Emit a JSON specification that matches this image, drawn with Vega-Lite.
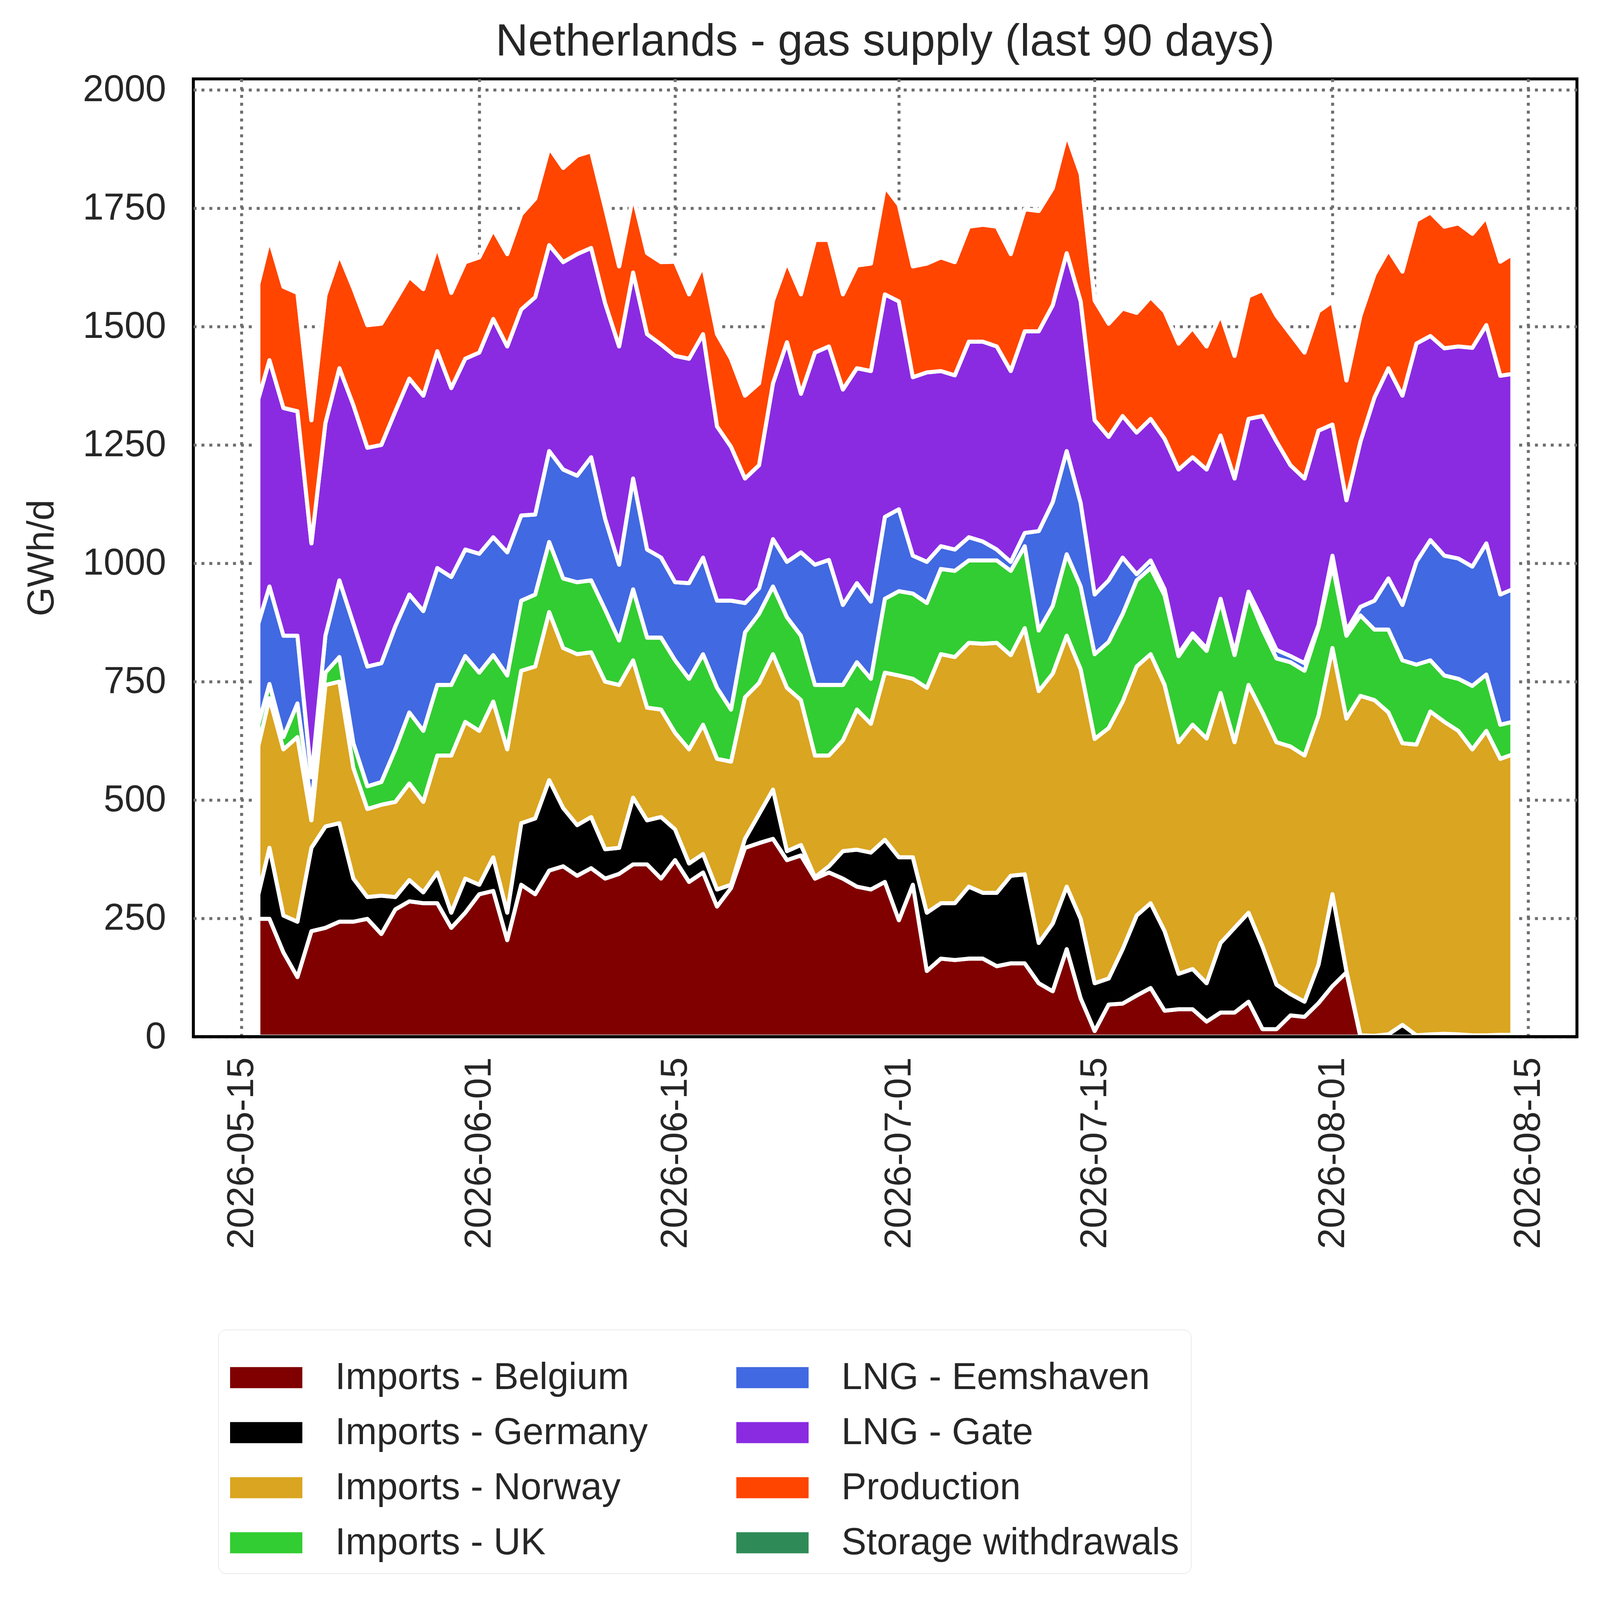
{
  "$schema": "https://vega.github.io/schema/vega-lite/v6.json",
  "autosize": {"type": "none"},
  "padding": {"left": 495, "top": 202, "right": 71, "bottom": 1403},
  "width": 3542,
  "height": 2452,
  "background": "white",
  "title": {
    "text": "Netherlands - gas supply (last 90 days)",
    "fontSize": 115,
    "font": "Liberation Sans",
    "fontWeight": "normal",
    "color": "#262626",
    "anchor": "middle",
    "frame": "group",
    "offset": 16
  },
  "data": {
    "values": [
      {"date": "2026-05-16T05:00:00Z", "Imports - Belgium": 249, "Imports - Germany": 52, "Imports - Norway": 314, "Imports - UK": 45, "LNG - Eemshaven": 213, "LNG - Gate": 474, "Production": 243, "Storage withdrawals": 0},
      {"date": "2026-05-17", "Imports - Belgium": 249, "Imports - Germany": 150, "Imports - Norway": 316, "Imports - UK": 30, "LNG - Eemshaven": 206, "LNG - Gate": 478, "Production": 256, "Storage withdrawals": 0},
      {"date": "2026-05-18", "Imports - Belgium": 178, "Imports - Germany": 78, "Imports - Norway": 351, "Imports - UK": 26, "LNG - Eemshaven": 214, "LNG - Gate": 481, "Production": 256, "Storage withdrawals": 0},
      {"date": "2026-05-19", "Imports - Belgium": 126, "Imports - Germany": 117, "Imports - Norway": 390, "Imports - UK": 71, "LNG - Eemshaven": 143, "LNG - Gate": 474, "Production": 250, "Storage withdrawals": 0},
      {"date": "2026-05-20", "Imports - Belgium": 223, "Imports - Germany": 176, "Imports - Norway": 58, "Imports - UK": 33, "LNG - Eemshaven": 58, "LNG - Gate": 494, "Production": 260, "Storage withdrawals": 0},
      {"date": "2026-05-21", "Imports - Belgium": 230, "Imports - Germany": 214, "Imports - Norway": 299, "Imports - UK": 26, "LNG - Eemshaven": 78, "LNG - Gate": 449, "Production": 270, "Storage withdrawals": 0},
      {"date": "2026-05-22", "Imports - Belgium": 243, "Imports - Germany": 208, "Imports - Norway": 299, "Imports - UK": 52, "LNG - Eemshaven": 162, "LNG - Gate": 448, "Production": 241, "Storage withdrawals": 0},
      {"date": "2026-05-23", "Imports - Belgium": 243, "Imports - Germany": 91, "Imports - Norway": 234, "Imports - UK": 52, "LNG - Eemshaven": 253, "LNG - Gate": 461, "Production": 247, "Storage withdrawals": 0},
      {"date": "2026-05-24", "Imports - Belgium": 249, "Imports - Germany": 46, "Imports - Norway": 186, "Imports - UK": 48, "LNG - Eemshaven": 253, "LNG - Gate": 462, "Production": 259, "Storage withdrawals": 0},
      {"date": "2026-05-25", "Imports - Belgium": 217, "Imports - Germany": 81, "Imports - Norway": 192, "Imports - UK": 48, "LNG - Eemshaven": 251, "LNG - Gate": 461, "Production": 256, "Storage withdrawals": 0},
      {"date": "2026-05-26", "Imports - Belgium": 269, "Imports - Germany": 26, "Imports - Norway": 201, "Imports - UK": 111, "LNG - Eemshaven": 260, "LNG - Gate": 454, "Production": 234, "Storage withdrawals": 0},
      {"date": "2026-05-27", "Imports - Belgium": 286, "Imports - Germany": 45, "Imports - Norway": 204, "Imports - UK": 150, "LNG - Eemshaven": 249, "LNG - Gate": 456, "Production": 215, "Storage withdrawals": 0},
      {"date": "2026-05-28", "Imports - Belgium": 282, "Imports - Germany": 23, "Imports - Norway": 191, "Imports - UK": 150, "LNG - Eemshaven": 253, "LNG - Gate": 455, "Production": 225, "Storage withdrawals": 0},
      {"date": "2026-05-29", "Imports - Belgium": 282, "Imports - Germany": 65, "Imports - Norway": 247, "Imports - UK": 149, "LNG - Eemshaven": 247, "LNG - Gate": 458, "Production": 222, "Storage withdrawals": 0},
      {"date": "2026-05-30", "Imports - Belgium": 230, "Imports - Germany": 32, "Imports - Norway": 332, "Imports - UK": 149, "LNG - Eemshaven": 228, "LNG - Gate": 399, "Production": 201, "Storage withdrawals": 0},
      {"date": "2026-05-31", "Imports - Belgium": 262, "Imports - Germany": 72, "Imports - Norway": 331, "Imports - UK": 139, "LNG - Eemshaven": 225, "LNG - Gate": 403, "Production": 204, "Storage withdrawals": 0},
      {"date": "2026-06-01", "Imports - Belgium": 301, "Imports - Germany": 20, "Imports - Norway": 325, "Imports - UK": 123, "LNG - Eemshaven": 251, "LNG - Gate": 425, "Production": 201, "Storage withdrawals": 0},
      {"date": "2026-06-02", "Imports - Belgium": 308, "Imports - Germany": 71, "Imports - Norway": 329, "Imports - UK": 98, "LNG - Eemshaven": 249, "LNG - Gate": 461, "Production": 189, "Storage withdrawals": 0},
      {"date": "2026-06-03", "Imports - Belgium": 204, "Imports - Germany": 58, "Imports - Norway": 345, "Imports - UK": 156, "LNG - Eemshaven": 260, "LNG - Gate": 435, "Production": 195, "Storage withdrawals": 0},
      {"date": "2026-06-04", "Imports - Belgium": 321, "Imports - Germany": 130, "Imports - Norway": 322, "Imports - UK": 148, "LNG - Eemshaven": 180, "LNG - Gate": 435, "Production": 201, "Storage withdrawals": 0},
      {"date": "2026-06-05", "Imports - Belgium": 301, "Imports - Germany": 160, "Imports - Norway": 321, "Imports - UK": 152, "LNG - Eemshaven": 169, "LNG - Gate": 459, "Production": 208, "Storage withdrawals": 0},
      {"date": "2026-06-06", "Imports - Belgium": 351, "Imports - Germany": 191, "Imports - Norway": 355, "Imports - UK": 148, "LNG - Eemshaven": 192, "LNG - Gate": 435, "Production": 206, "Storage withdrawals": 0},
      {"date": "2026-06-07", "Imports - Belgium": 360, "Imports - Germany": 123, "Imports - Norway": 338, "Imports - UK": 147, "LNG - Eemshaven": 230, "LNG - Gate": 438, "Production": 199, "Storage withdrawals": 0},
      {"date": "2026-06-08", "Imports - Belgium": 340, "Imports - Germany": 107, "Imports - Norway": 361, "Imports - UK": 152, "LNG - Eemshaven": 225, "LNG - Gate": 468, "Production": 208, "Storage withdrawals": 0},
      {"date": "2026-06-09", "Imports - Belgium": 356, "Imports - Germany": 108, "Imports - Norway": 348, "Imports - UK": 152, "LNG - Eemshaven": 260, "LNG - Gate": 442, "Production": 204, "Storage withdrawals": 0},
      {"date": "2026-06-10", "Imports - Belgium": 334, "Imports - Germany": 62, "Imports - Norway": 354, "Imports - UK": 152, "LNG - Eemshaven": 192, "LNG - Gate": 455, "Production": 201, "Storage withdrawals": 0},
      {"date": "2026-06-11", "Imports - Belgium": 344, "Imports - Germany": 55, "Imports - Norway": 344, "Imports - UK": 94, "LNG - Eemshaven": 160, "LNG - Gate": 461, "Production": 169, "Storage withdrawals": 0},
      {"date": "2026-06-12", "Imports - Belgium": 364, "Imports - Germany": 141, "Imports - Norway": 290, "Imports - UK": 150, "LNG - Eemshaven": 234, "LNG - Gate": 435, "Production": 162, "Storage withdrawals": 0},
      {"date": "2026-06-13", "Imports - Belgium": 364, "Imports - Germany": 93, "Imports - Norway": 238, "Imports - UK": 148, "LNG - Eemshaven": 186, "LNG - Gate": 455, "Production": 171, "Storage withdrawals": 0},
      {"date": "2026-06-14", "Imports - Belgium": 334, "Imports - Germany": 130, "Imports - Norway": 227, "Imports - UK": 152, "LNG - Eemshaven": 169, "LNG - Gate": 450, "Production": 174, "Storage withdrawals": 0},
      {"date": "2026-06-15", "Imports - Belgium": 373, "Imports - Germany": 65, "Imports - Norway": 204, "Imports - UK": 153, "LNG - Eemshaven": 165, "LNG - Gate": 478, "Production": 199, "Storage withdrawals": 0},
      {"date": "2026-06-16", "Imports - Belgium": 327, "Imports - Germany": 39, "Imports - Norway": 241, "Imports - UK": 149, "LNG - Eemshaven": 202, "LNG - Gate": 474, "Production": 136, "Storage withdrawals": 0},
      {"date": "2026-06-17", "Imports - Belgium": 347, "Imports - Germany": 39, "Imports - Norway": 273, "Imports - UK": 149, "LNG - Eemshaven": 204, "LNG - Gate": 472, "Production": 145, "Storage withdrawals": 0},
      {"date": "2026-06-18", "Imports - Belgium": 275, "Imports - Germany": 36, "Imports - Norway": 276, "Imports - UK": 150, "LNG - Eemshaven": 184, "LNG - Gate": 368, "Production": 195, "Storage withdrawals": 0},
      {"date": "2026-06-19", "Imports - Belgium": 314, "Imports - Germany": 7, "Imports - Norway": 260, "Imports - UK": 110, "LNG - Eemshaven": 230, "LNG - Gate": 325, "Production": 186, "Storage withdrawals": 0},
      {"date": "2026-06-20", "Imports - Belgium": 399, "Imports - Germany": 19, "Imports - Norway": 299, "Imports - UK": 137, "LNG - Eemshaven": 62, "LNG - Gate": 263, "Production": 175, "Storage withdrawals": 0},
      {"date": "2026-06-21", "Imports - Belgium": 409, "Imports - Germany": 61, "Imports - Norway": 277, "Imports - UK": 146, "LNG - Eemshaven": 54, "LNG - Gate": 260, "Production": 173, "Storage withdrawals": 0},
      {"date": "2026-06-22", "Imports - Belgium": 418, "Imports - Germany": 104, "Imports - Norway": 286, "Imports - UK": 143, "LNG - Eemshaven": 100, "LNG - Gate": 329, "Production": 175, "Storage withdrawals": 0},
      {"date": "2026-06-23", "Imports - Belgium": 373, "Imports - Germany": 19, "Imports - Norway": 345, "Imports - UK": 149, "LNG - Eemshaven": 117, "LNG - Gate": 464, "Production": 170, "Storage withdrawals": 0},
      {"date": "2026-06-24", "Imports - Belgium": 383, "Imports - Germany": 22, "Imports - Norway": 306, "Imports - UK": 136, "LNG - Eemshaven": 176, "LNG - Gate": 335, "Production": 210, "Storage withdrawals": 0},
      {"date": "2026-06-25", "Imports - Belgium": 334, "Imports - Germany": 3, "Imports - Norway": 257, "Imports - UK": 149, "LNG - Eemshaven": 254, "LNG - Gate": 448, "Production": 238, "Storage withdrawals": 0},
      {"date": "2026-06-26", "Imports - Belgium": 347, "Imports - Germany": 13, "Imports - Norway": 234, "Imports - UK": 149, "LNG - Eemshaven": 264, "LNG - Gate": 451, "Production": 225, "Storage withdrawals": 0},
      {"date": "2026-06-27", "Imports - Belgium": 334, "Imports - Germany": 58, "Imports - Norway": 234, "Imports - UK": 117, "LNG - Eemshaven": 169, "LNG - Gate": 455, "Production": 201, "Storage withdrawals": 0},
      {"date": "2026-06-28", "Imports - Belgium": 317, "Imports - Germany": 78, "Imports - Norway": 296, "Imports - UK": 100, "LNG - Eemshaven": 167, "LNG - Gate": 454, "Production": 217, "Storage withdrawals": 0},
      {"date": "2026-06-29", "Imports - Belgium": 311, "Imports - Germany": 78, "Imports - Norway": 272, "Imports - UK": 95, "LNG - Eemshaven": 163, "LNG - Gate": 487, "Production": 227, "Storage withdrawals": 0},
      {"date": "2026-06-30", "Imports - Belgium": 327, "Imports - Germany": 89, "Imports - Norway": 353, "Imports - UK": 156, "LNG - Eemshaven": 173, "LNG - Gate": 470, "Production": 228, "Storage withdrawals": 0},
      {"date": "2026-07-01", "Imports - Belgium": 246, "Imports - Germany": 133, "Imports - Norway": 384, "Imports - UK": 178, "LNG - Eemshaven": 173, "LNG - Gate": 439, "Production": 204, "Storage withdrawals": 0},
      {"date": "2026-07-02", "Imports - Belgium": 321, "Imports - Germany": 58, "Imports - Norway": 377, "Imports - UK": 180, "LNG - Eemshaven": 80, "LNG - Gate": 377, "Production": 234, "Storage withdrawals": 0},
      {"date": "2026-07-03", "Imports - Belgium": 139, "Imports - Germany": 123, "Imports - Norway": 475, "Imports - UK": 179, "LNG - Eemshaven": 87, "LNG - Gate": 400, "Production": 230, "Storage withdrawals": 0},
      {"date": "2026-07-04", "Imports - Belgium": 165, "Imports - Germany": 117, "Imports - Norway": 526, "Imports - UK": 180, "LNG - Eemshaven": 48, "LNG - Gate": 370, "Production": 240, "Storage withdrawals": 0},
      {"date": "2026-07-05", "Imports - Belgium": 162, "Imports - Germany": 120, "Imports - Norway": 520, "Imports - UK": 182, "LNG - Eemshaven": 45, "LNG - Gate": 368, "Production": 239, "Storage withdrawals": 0},
      {"date": "2026-07-06", "Imports - Belgium": 165, "Imports - Germany": 152, "Imports - Norway": 515, "Imports - UK": 174, "LNG - Eemshaven": 49, "LNG - Gate": 413, "Production": 243, "Storage withdrawals": 0},
      {"date": "2026-07-07", "Imports - Belgium": 165, "Imports - Germany": 139, "Imports - Norway": 526, "Imports - UK": 176, "LNG - Eemshaven": 40, "LNG - Gate": 422, "Production": 247, "Storage withdrawals": 0},
      {"date": "2026-07-08", "Imports - Belgium": 149, "Imports - Germany": 155, "Imports - Norway": 528, "Imports - UK": 174, "LNG - Eemshaven": 23, "LNG - Gate": 429, "Production": 253, "Storage withdrawals": 0},
      {"date": "2026-07-09", "Imports - Belgium": 155, "Imports - Germany": 185, "Imports - Norway": 466, "Imports - UK": 178, "LNG - Eemshaven": 19, "LNG - Gate": 403, "Production": 247, "Storage withdrawals": 0},
      {"date": "2026-07-10", "Imports - Belgium": 155, "Imports - Germany": 188, "Imports - Norway": 520, "Imports - UK": 173, "LNG - Eemshaven": 28, "LNG - Gate": 426, "Production": 258, "Storage withdrawals": 0},
      {"date": "2026-07-11", "Imports - Belgium": 113, "Imports - Germany": 85, "Imports - Norway": 532, "Imports - UK": 128, "LNG - Eemshaven": 210, "LNG - Gate": 422, "Production": 254, "Storage withdrawals": 0},
      {"date": "2026-07-12", "Imports - Belgium": 96, "Imports - Germany": 143, "Imports - Norway": 528, "Imports - UK": 143, "LNG - Eemshaven": 219, "LNG - Gate": 416, "Production": 247, "Storage withdrawals": 0},
      {"date": "2026-07-13", "Imports - Belgium": 185, "Imports - Germany": 132, "Imports - Norway": 530, "Imports - UK": 172, "LNG - Eemshaven": 218, "LNG - Gate": 418, "Production": 251, "Storage withdrawals": 0},
      {"date": "2026-07-14", "Imports - Belgium": 81, "Imports - Germany": 168, "Imports - Norway": 527, "Imports - UK": 175, "LNG - Eemshaven": 176, "LNG - Gate": 426, "Production": 269, "Storage withdrawals": 0},
      {"date": "2026-07-15", "Imports - Belgium": 12, "Imports - Germany": 101, "Imports - Norway": 516, "Imports - UK": 179, "LNG - Eemshaven": 126, "LNG - Gate": 368, "Production": 253, "Storage withdrawals": 0},
      {"date": "2026-07-16", "Imports - Belgium": 68, "Imports - Germany": 55, "Imports - Norway": 529, "Imports - UK": 182, "LNG - Eemshaven": 130, "LNG - Gate": 303, "Production": 239, "Storage withdrawals": 0},
      {"date": "2026-07-17", "Imports - Belgium": 70, "Imports - Germany": 115, "Imports - Norway": 523, "Imports - UK": 185, "LNG - Eemshaven": 119, "LNG - Gate": 299, "Production": 227, "Storage withdrawals": 0},
      {"date": "2026-07-18", "Imports - Belgium": 87, "Imports - Germany": 169, "Imports - Norway": 526, "Imports - UK": 182, "LNG - Eemshaven": 13, "LNG - Gate": 299, "Production": 253, "Storage withdrawals": 0},
      {"date": "2026-07-19", "Imports - Belgium": 103, "Imports - Germany": 179, "Imports - Norway": 526, "Imports - UK": 182, "LNG - Eemshaven": 16, "LNG - Gate": 299, "Production": 257, "Storage withdrawals": 0},
      {"date": "2026-07-20", "Imports - Belgium": 55, "Imports - Germany": 168, "Imports - Norway": 520, "Imports - UK": 189, "LNG - Eemshaven": 13, "LNG - Gate": 318, "Production": 269, "Storage withdrawals": 0},
      {"date": "2026-07-21", "Imports - Belgium": 58, "Imports - Germany": 75, "Imports - Norway": 489, "Imports - UK": 182, "LNG - Eemshaven": 5, "LNG - Gate": 389, "Production": 266, "Storage withdrawals": 0},
      {"date": "2026-07-22", "Imports - Belgium": 58, "Imports - Germany": 85, "Imports - Norway": 516, "Imports - UK": 188, "LNG - Eemshaven": 5, "LNG - Gate": 372, "Production": 273, "Storage withdrawals": 0},
      {"date": "2026-07-23", "Imports - Belgium": 32, "Imports - Germany": 81, "Imports - Norway": 517, "Imports - UK": 185, "LNG - Eemshaven": 5, "LNG - Gate": 378, "Production": 260, "Storage withdrawals": 0},
      {"date": "2026-07-24", "Imports - Belgium": 51, "Imports - Germany": 147, "Imports - Norway": 528, "Imports - UK": 195, "LNG - Eemshaven": 4, "LNG - Gate": 345, "Production": 256, "Storage withdrawals": 0},
      {"date": "2026-07-25", "Imports - Belgium": 51, "Imports - Germany": 179, "Imports - Norway": 392, "Imports - UK": 184, "LNG - Eemshaven": 5, "LNG - Gate": 368, "Production": 259, "Storage withdrawals": 0},
      {"date": "2026-07-26", "Imports - Belgium": 74, "Imports - Germany": 188, "Imports - Norway": 481, "Imports - UK": 189, "LNG - Eemshaven": 8, "LNG - Gate": 365, "Production": 259, "Storage withdrawals": 0},
      {"date": "2026-07-27", "Imports - Belgium": 16, "Imports - Germany": 175, "Imports - Norway": 494, "Imports - UK": 175, "LNG - Eemshaven": 20, "LNG - Gate": 431, "Production": 266, "Storage withdrawals": 0},
      {"date": "2026-07-28", "Imports - Belgium": 16, "Imports - Germany": 94, "Imports - Norway": 512, "Imports - UK": 177, "LNG - Eemshaven": 18, "LNG - Gate": 440, "Production": 266, "Storage withdrawals": 0},
      {"date": "2026-07-29", "Imports - Belgium": 45, "Imports - Germany": 45, "Imports - Norway": 523, "Imports - UK": 178, "LNG - Eemshaven": 13, "LNG - Gate": 403, "Production": 277, "Storage withdrawals": 0},
      {"date": "2026-07-30", "Imports - Belgium": 42, "Imports - Germany": 32, "Imports - Norway": 520, "Imports - UK": 179, "LNG - Eemshaven": 16, "LNG - Gate": 390, "Production": 266, "Storage withdrawals": 0},
      {"date": "2026-07-31", "Imports - Belgium": 71, "Imports - Germany": 81, "Imports - Norway": 526, "Imports - UK": 186, "LNG - Eemshaven": 5, "LNG - Gate": 411, "Production": 252, "Storage withdrawals": 0},
      {"date": "2026-08-01", "Imports - Belgium": 107, "Imports - Germany": 194, "Imports - Norway": 520, "Imports - UK": 176, "LNG - Eemshaven": 19, "LNG - Gate": 277, "Production": 260, "Storage withdrawals": 0},
      {"date": "2026-08-02", "Imports - Belgium": 136, "Imports - Germany": 3, "Imports - Norway": 533, "Imports - UK": 175, "LNG - Eemshaven": 11, "LNG - Gate": 275, "Production": 253, "Storage withdrawals": 0},
      {"date": "2026-08-03", "Imports - Belgium": 0, "Imports - Germany": 3, "Imports - Norway": 717, "Imports - UK": 170, "LNG - Eemshaven": 18, "LNG - Gate": 349, "Production": 266, "Storage withdrawals": 0},
      {"date": "2026-08-04", "Imports - Belgium": 0, "Imports - Germany": 2, "Imports - Norway": 709, "Imports - UK": 149, "LNG - Eemshaven": 61, "LNG - Gate": 429, "Production": 260, "Storage withdrawals": 0},
      {"date": "2026-08-05", "Imports - Belgium": 0, "Imports - Germany": 5, "Imports - Norway": 680, "Imports - UK": 175, "LNG - Eemshaven": 108, "LNG - Gate": 444, "Production": 250, "Storage withdrawals": 0},
      {"date": "2026-08-06", "Imports - Belgium": 0, "Imports - Germany": 25, "Imports - Norway": 595, "Imports - UK": 175, "LNG - Eemshaven": 117, "LNG - Gate": 442, "Production": 262, "Storage withdrawals": 0},
      {"date": "2026-08-07", "Imports - Belgium": 0, "Imports - Germany": 3, "Imports - Norway": 614, "Imports - UK": 169, "LNG - Eemshaven": 217, "LNG - Gate": 461, "Production": 260, "Storage withdrawals": 0},
      {"date": "2026-08-08", "Imports - Belgium": 0, "Imports - Germany": 5, "Imports - Norway": 682, "Imports - UK": 108, "LNG - Eemshaven": 254, "LNG - Gate": 431, "Production": 261, "Storage withdrawals": 0},
      {"date": "2026-08-09", "Imports - Belgium": 0, "Imports - Germany": 6, "Imports - Norway": 659, "Imports - UK": 98, "LNG - Eemshaven": 253, "LNG - Gate": 438, "Production": 257, "Storage withdrawals": 0},
      {"date": "2026-08-10", "Imports - Belgium": 0, "Imports - Germany": 5, "Imports - Norway": 641, "Imports - UK": 110, "LNG - Eemshaven": 254, "LNG - Gate": 448, "Production": 260, "Storage withdrawals": 0},
      {"date": "2026-08-11", "Imports - Belgium": 0, "Imports - Germany": 3, "Imports - Norway": 604, "Imports - UK": 134, "LNG - Eemshaven": 252, "LNG - Gate": 462, "Production": 241, "Storage withdrawals": 0},
      {"date": "2026-08-12", "Imports - Belgium": 0, "Imports - Germany": 3, "Imports - Norway": 643, "Imports - UK": 119, "LNG - Eemshaven": 277, "LNG - Gate": 461, "Production": 228, "Storage withdrawals": 0},
      {"date": "2026-08-13", "Imports - Belgium": 0, "Imports - Germany": 4, "Imports - Norway": 583, "Imports - UK": 72, "LNG - Eemshaven": 275, "LNG - Gate": 462, "Production": 241, "Storage withdrawals": 0},
      {"date": "2026-08-13T20:40:00Z", "Imports - Belgium": 0, "Imports - Germany": 4, "Imports - Norway": 592, "Imports - UK": 69, "LNG - Eemshaven": 280, "LNG - Gate": 455, "Production": 253, "Storage withdrawals": 0}
    ]
  },
  "layer": [
    {
      "transform": [
        {"fold": ["Imports - Belgium", "Imports - Germany", "Imports - Norway", "Imports - UK", "LNG - Eemshaven", "LNG - Gate", "Production", "Storage withdrawals"], "as": ["source", "value"]},
        {"calculate": "indexof(['Imports - Belgium', 'Imports - Germany', 'Imports - Norway', 'Imports - UK', 'LNG - Eemshaven', 'LNG - Gate', 'Production', 'Storage withdrawals'], datum.source)", "as": "k"}
      ],
      "mark": {"type": "area", "stroke": "white", "strokeWidth": 10.3, "strokeJoin": "round", "interpolate": "linear"},
      "encoding": {
        "x": {
          "field": "date",
          "type": "temporal",
          "scale": {
            "type": "utc",
            "domain": [
              {"year": 2026, "month": 5, "date": 11, "hours": 13, "minutes": 26, "utc": true},
              {"year": 2026, "month": 8, "date": 18, "hours": 11, "minutes": 31, "utc": true}
            ]
          },
          "axis": {
            "title": null,
            "values": [
              {"year": 2026, "month": 5, "date": 15, "utc": true},
              {"year": 2026, "month": 6, "date": 1, "utc": true},
              {"year": 2026, "month": 6, "date": 15, "utc": true},
              {"year": 2026, "month": 7, "date": 1, "utc": true},
              {"year": 2026, "month": 7, "date": 15, "utc": true},
              {"year": 2026, "month": 8, "date": 1, "utc": true},
              {"year": 2026, "month": 8, "date": 15, "utc": true}
            ],
            "format": "%Y-%m-%d",
            "labelAngle": 270,
            "labelPadding": 52,
            "labelFlush": false
          }
        },
        "y": {
          "field": "value",
          "type": "quantitative",
          "stack": "zero",
          "scale": {"domain": [0, 2023], "nice": false, "zero": true},
          "axis": {
            "title": "GWh/d",
            "values": [0, 250, 500, 750, 1000, 1250, 1500, 1750, 2000],
            "format": "d",
            "labelPadding": 70,
            "titlePadding": 55
          }
        },
        "color": {
          "field": "source",
          "type": "nominal",
          "scale": {
            "domain": ["Imports - Belgium", "Imports - Germany", "Imports - Norway", "Imports - UK", "LNG - Eemshaven", "LNG - Gate", "Production", "Storage withdrawals"],
            "range": ["#800000", "#000000", "#daa520", "#32cd32", "#4169e1", "#8a2be2", "#ff4500", "#2e8b57"]
          },
          "legend": {
            "title": null,
            "orient": "none",
            "legendX": 64,
            "legendY": {"expr": "height + 750"},
            "direction": "vertical",
            "columns": 2,
            "symbolType": "M-1,-0.292L1,-0.292L1,0.292L-1,0.292Z",
            "symbolSize": 34225,
            "symbolStrokeWidth": 0,
            "symbolOpacity": 1,
            "labelFont": "Liberation Sans",
            "labelFontSize": 96,
            "labelColor": "#262626",
            "labelOffset": 84,
            "labelLimit": 2000,
            "rowPadding": -8.5,
            "columnPadding": 226,
            "padding": 30,
            "strokeColor": "#d6d6d6",
            "cornerRadius": 20,
            "fillColor": "white",
            "encode": {"legend": {"update": {"strokeWidth": {"value": 7}}}}
          }
        },
        "order": {"field": "k", "type": "quantitative"}
      }
    },
    {
      "mark": {"type": "rule", "color": "black", "strokeWidth": 7.6},
      "encoding": {"y": {"datum": 0}}
    }
  ],
  "config": {
    "font": "Liberation Sans",
    "view": {"stroke": "black", "strokeWidth": 7.6},
    "axis": {
      "domain": false,
      "ticks": false,
      "grid": true,
      "gridColor": "#6e6e6e",
      "gridWidth": 7.6,
      "gridDash": [7.6, 12.6],
      "labelFont": "Liberation Sans",
      "labelFontSize": 96,
      "labelColor": "#262626",
      "labelOverlap": false,
      "labelLimit": 1000,
      "maxExtent": 1500,
      "titleFont": "Liberation Sans",
      "titleFontSize": 96,
      "titleFontWeight": "normal",
      "titleColor": "#262626"
    }
  }
}
